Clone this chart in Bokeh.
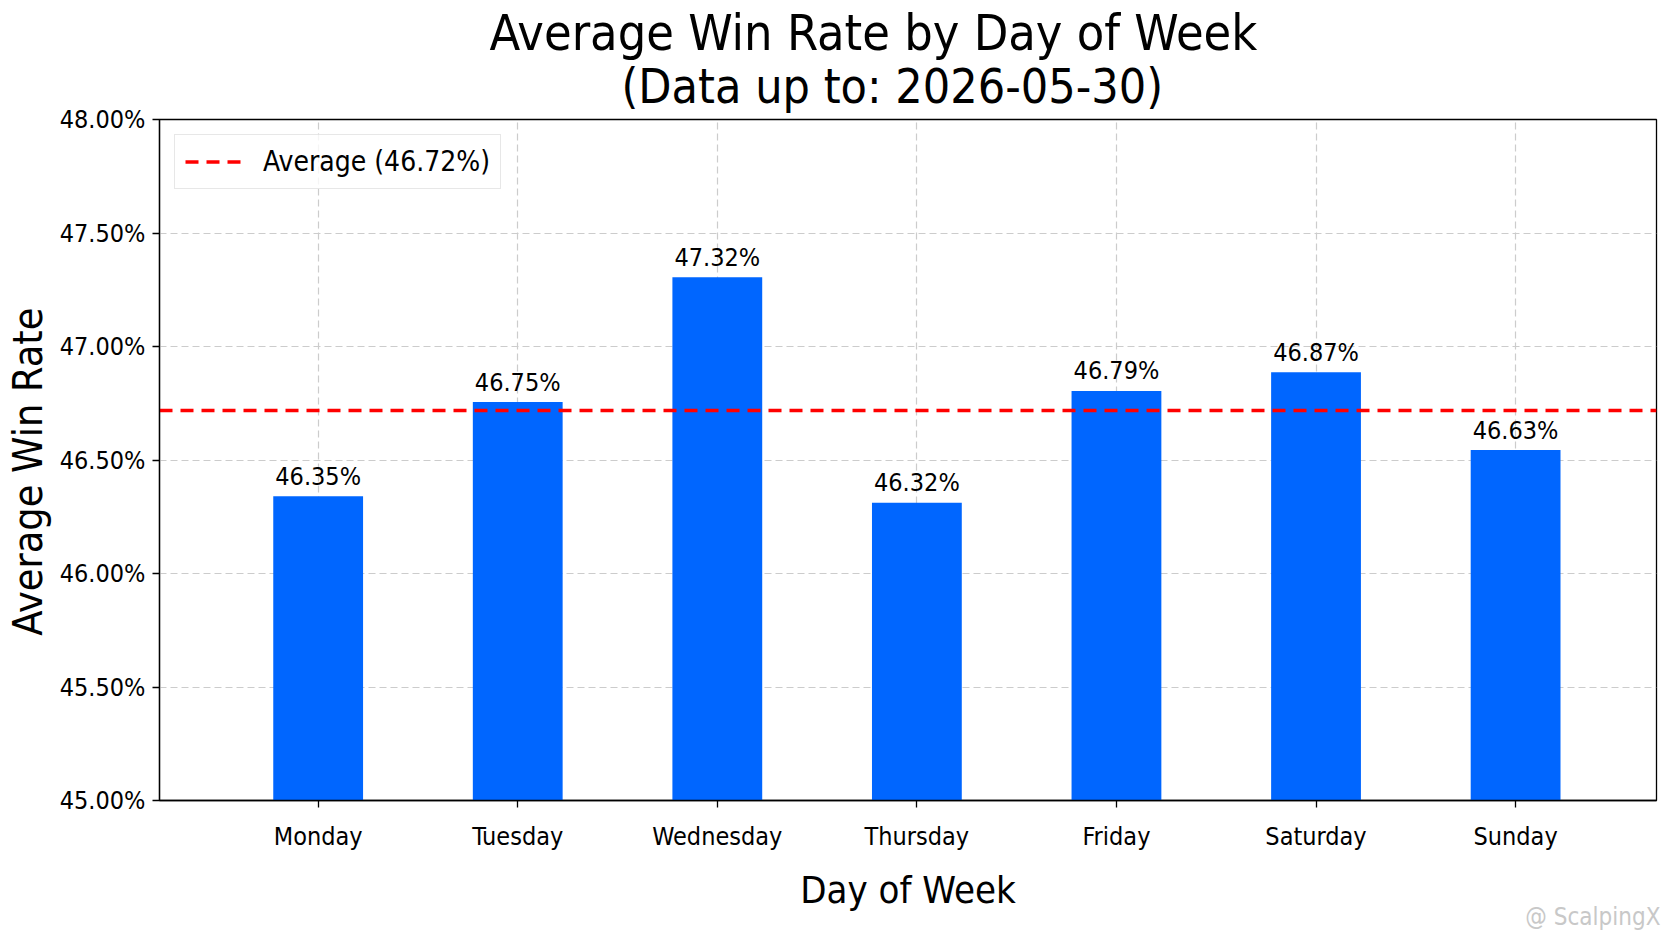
from bokeh.plotting import figure
from bokeh.models import FixedTicker, PrintfTickFormatter, Title
from bokeh.core.properties import value
from bokeh.embed import file_html
from bokeh.resources import INLINE

# ---- data ----
days = ["Monday", "Tuesday", "Wednesday", "Thursday", "Friday", "Saturday", "Sunday"]
bar_heights = [46.34, 46.755, 47.305, 46.312, 46.804, 46.887, 46.544]
label_values = [46.35, 46.75, 47.32, 46.32, 46.79, 46.87, 46.63]
average = 46.72
y_ticks = [45.0, 45.5, 46.0, 46.5, 47.0, 47.5, 48.0]
title_line1 = "Average Win Rate by Day of Week"
title_line2 = "(Data up to: 2026-05-30)"
x_title = "Day of Week"
y_title = "Average Win Rate"
watermark = "@ ScalpingX"

FONT = "DejaVu Sans Condensed"
BAR_COLOR = "#0066ff"
GRID_COLOR = "#cccccc"

idx = list(range(len(days)))
labels = [f"{v:.2f}%" for v in label_values]

FW, FH = 1497, 681
p = figure(frame_width=FW, frame_height=FH,
           x_range=(-0.795, 6.706), y_range=(45, 48),
           output_backend="svg", toolbar_location=None, title=None,
           min_border_left=152, min_border_right=7,
           min_border_top=119, min_border_bottom=139)
p.background_fill_color = "white"
p.border_fill_color = "white"
p.outline_line_color = "black"
p.outline_line_width = 1.3

# axes
p.xaxis.ticker = FixedTicker(ticks=idx)
p.xaxis.major_label_overrides = {i: d for i, d in enumerate(days)}
p.yaxis.ticker = FixedTicker(ticks=y_ticks)
p.yaxis.formatter = PrintfTickFormatter(format="%.2f%%")
for ax in (p.xaxis, p.yaxis):
    ax.minor_tick_line_color = None
    ax.major_tick_out = 7
    ax.major_tick_in = 0
    ax.major_tick_line_color = "black"
    ax.major_tick_line_width = 1.3
    ax.axis_line_color = "black"
    ax.axis_line_width = 1.3
    ax.major_label_text_font = FONT
    ax.major_label_text_font_size = "25px"
    ax.major_label_text_color = "black"
    ax.axis_label_text_font = FONT
    ax.axis_label_text_font_style = "normal"
    ax.axis_label_text_color = "black"
p.xaxis.major_label_standoff = 14
p.yaxis.major_label_standoff = 7
p.xaxis.axis_label = x_title
p.xaxis.axis_label_text_font_size = "38px"
p.xaxis.axis_label_standoff = 14
p.yaxis.axis_label = y_title + "\u00a0\u00a0"
p.yaxis.axis_label_text_font_size = "41px"
p.yaxis.axis_label_standoff = 5

# grid
for g in (p.xgrid, p.ygrid):
    g.grid_line_color = GRID_COLOR
    g.grid_line_dash = "7 4"
    g.grid_line_width = 1.2

# bars
p.vbar(x=idx, top=bar_heights, bottom=0, width=0.45,
       fill_color=BAR_COLOR, line_color=None)

# value labels
p.text(x=idx, y=bar_heights, text=labels, text_align="center",
       text_baseline="alphabetic", y_offset=-20,
       text_font=value(FONT), text_font_size="25px", text_color="black")

# average line
p.hspan(y=[average], line_color="red", line_width=3.5, line_dash="13 8",
        legend_label=f"Average ({average:.2f}%)")

lg = p.legend[0]
lg.location = "top_left"
lg.margin = 15
lg.padding = 10
lg.glyph_width = 56
lg.glyph_height = 31
lg.label_height = 31
lg.label_standoff = 22
lg.label_text_font = FONT
lg.label_text_font_size = "28px"
lg.label_text_color = "black"
lg.border_line_color = "#d0d0d0"
lg.border_line_width = 1.2
lg.background_fill_alpha = 0.8

# titles: second line nearest the frame, first line above it
p.add_layout(Title(text=title_line2, align="left", offset=462, standoff=12,
                   text_font=FONT, text_font_size="48px", text_font_style="normal",
                   text_color="black"), "above")
p.add_layout(Title(text=title_line1, align="left", offset=330, standoff=-24,
                   text_font=FONT, text_font_size="50px", text_font_style="normal",
                   text_color="black"), "above")

# watermark under the x-axis title
p.add_layout(Title(text=watermark, align="right", offset=-4, standoff=-24,
                   vertical_align="top",
                   text_font=FONT, text_font_size="24px", text_font_style="normal",
                   text_color="#c8c8c8"), "below")

open("out.html", "w").write(file_html(p, INLINE))
